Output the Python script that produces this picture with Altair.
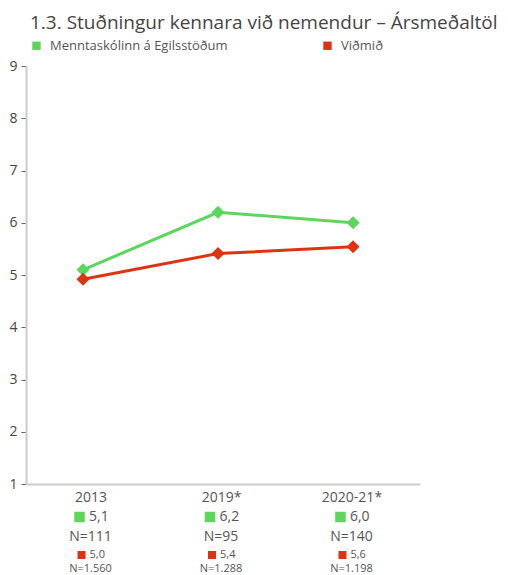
import altair as alt
import pandas as pd

years = ["2013", "2019*", "2020-21*"]
school_name = "Menntaskólinn á Egilsstöðum"
bench_name = "Viðmið"
school_vals = [5.1, 6.2, 6.0]
bench_vals = [4.92, 5.41, 5.54]
school_lbls = ["5,1", "6,2", "6,0"]
bench_lbls = ["5,0", "5,4", "5,6"]
school_n = ["N=111", "N=95", "N=140"]
bench_n = ["N=1.560", "N=1.288", "N=1.198"]
title_text = "1.3. Stuðningur kennara við nemendur – Ársmeðaltöl"

GREEN = "#5cd65c"
RED = "#dd3311"
TXT = "#555555"
FONT = "Open Sans"

long = pd.DataFrame({
    "year": years * 2,
    "group": [school_name] * 3 + [bench_name] * 3,
    "value": school_vals + bench_vals,
})
tab = pd.DataFrame({"year": years, "s_lbl": school_lbls, "b_lbl": bench_lbls,
                    "s_n": school_n, "b_n": bench_n})

color = alt.Color(
    "group:N",
    scale=alt.Scale(domain=[school_name, bench_name], range=[GREEN, RED]),
    legend=alt.Legend(title=None, orient="none", legendX=4, legendY=-27,
                      direction="horizontal", symbolType="square", symbolSize=70,
                      labelFont=FONT, labelFontSize=13, labelColor=TXT, labelLimit=400,
                      columnPadding=93, labelOffset=7, symbolStrokeWidth=0,
                      symbolOpacity=1),
)

xl = alt.X("year:N", sort=years,
           scale=alt.Scale(type="point", padding=0.459, align=0.46), axis=None)
y = alt.Y("value:Q", scale=alt.Scale(domain=[1, 9], nice=False, zero=False),
          axis=alt.Axis(values=list(range(1, 10)), title=None, grid=False,
                        domainColor="#cccccc", domainWidth=2, tickColor="#666666",
                        tickSize=5, labelPadding=4, labelFont=FONT, labelFontSize=14,
                        labelColor="#444444"))

lines = alt.Chart(long).mark_line(strokeWidth=3).encode(x=xl, y=y, color=color)
pts = alt.Chart(long).mark_point(shape="diamond", filled=True, size=170, opacity=1).encode(
    x=xl, y=y, color=color)


def xt(axis=None):
    return alt.X("year:N", sort=years,
                 scale=alt.Scale(type="point", padding=0.51, align=0.485), axis=axis)


xaxis = alt.Axis(title=None, ticks=False, domainColor="#cccccc", domainWidth=2,
                 labelPadding=6, labelFont=FONT, labelFontSize=14, labelColor=TXT,
                 labelAngle=0)

base = alt.Chart(tab)
sq_s = base.mark_square(size=110, color=GREEN, opacity=1, xOffset=-11).encode(
    x=xt(), y=alt.value(451))
txt_s = base.mark_text(align="left", dx=-1.5, fontSize=14, font=FONT, color=TXT).encode(
    x=xt(xaxis), y=alt.value(451), text="s_lbl:N")
n_s = base.mark_text(fontSize=14, font=FONT, color=TXT).encode(
    x=xt(), y=alt.value(471), text="s_n:N")
sq_b = base.mark_square(size=64, color=RED, opacity=1, xOffset=-9).encode(
    x=xt(), y=alt.value(489))
txt_b = base.mark_text(align="left", dx=-1, fontSize=11, font=FONT, color=TXT).encode(
    x=xt(), y=alt.value(489), text="b_lbl:N")
n_b = base.mark_text(fontSize=11, font=FONT, color=TXT).encode(
    x=xt(), y=alt.value(503), text="b_n:N")

chart = alt.layer(lines, pts, sq_s, txt_s, n_s, sq_b, txt_b, n_b).resolve_scale(
    x="independent"
).properties(
    width=394, height=418,
    title=alt.TitleParams(text=title_text, anchor="start", frame="group", dx=4,
                          fontSize=19, font=FONT, fontWeight="normal", color="#444444",
                          offset=6),
    autosize=alt.AutoSizeParams(type="none"),
    padding={"left": 18, "top": 58, "right": 80, "bottom": 90},
).configure_view(stroke=None)

chart.save("out.html", embed_options={"renderer": "svg", "actions": False})
